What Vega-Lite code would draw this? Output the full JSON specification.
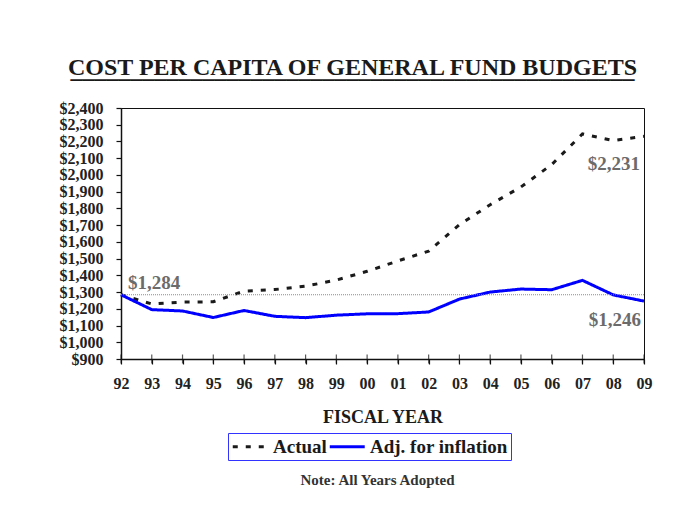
{
  "$schema": "https://vega.github.io/schema/vega-lite/v6.json",
  "background": "white",
  "padding": {"left": 58, "top": 55, "right": 5, "bottom": 5},
  "title": {
    "text": "Note: All Years Adopted",
    "orient": "bottom",
    "anchor": "middle",
    "frame": "group",
    "dx": -5,
    "font": "Liberation Serif",
    "fontSize": 15,
    "fontWeight": "bold",
    "color": "#333333",
    "offset": 12
  },
  "datasets": {
    "series": [
      {"year": "92", "series": "Actual", "value": 1284},
      {"year": "93", "series": "Actual", "value": 1229},
      {"year": "94", "series": "Actual", "value": 1240},
      {"year": "95", "series": "Actual", "value": 1242},
      {"year": "96", "series": "Actual", "value": 1306},
      {"year": "97", "series": "Actual", "value": 1315},
      {"year": "98", "series": "Actual", "value": 1335},
      {"year": "99", "series": "Actual", "value": 1372},
      {"year": "00", "series": "Actual", "value": 1424},
      {"year": "01", "series": "Actual", "value": 1486},
      {"year": "02", "series": "Actual", "value": 1545},
      {"year": "03", "series": "Actual", "value": 1703},
      {"year": "04", "series": "Actual", "value": 1822},
      {"year": "05", "series": "Actual", "value": 1928},
      {"year": "06", "series": "Actual", "value": 2062},
      {"year": "07", "series": "Actual", "value": 2245},
      {"year": "08", "series": "Actual", "value": 2205},
      {"year": "09", "series": "Actual", "value": 2231},
      {"year": "92", "series": "Adj. for inflation", "value": 1284},
      {"year": "93", "series": "Adj. for inflation", "value": 1195},
      {"year": "94", "series": "Adj. for inflation", "value": 1187},
      {"year": "95", "series": "Adj. for inflation", "value": 1148},
      {"year": "96", "series": "Adj. for inflation", "value": 1190},
      {"year": "97", "series": "Adj. for inflation", "value": 1155},
      {"year": "98", "series": "Adj. for inflation", "value": 1147},
      {"year": "99", "series": "Adj. for inflation", "value": 1162},
      {"year": "00", "series": "Adj. for inflation", "value": 1170},
      {"year": "01", "series": "Adj. for inflation", "value": 1171},
      {"year": "02", "series": "Adj. for inflation", "value": 1181},
      {"year": "03", "series": "Adj. for inflation", "value": 1258},
      {"year": "04", "series": "Adj. for inflation", "value": 1300},
      {"year": "05", "series": "Adj. for inflation", "value": 1318},
      {"year": "06", "series": "Adj. for inflation", "value": 1314},
      {"year": "07", "series": "Adj. for inflation", "value": 1370},
      {"year": "08", "series": "Adj. for inflation", "value": 1283},
      {"year": "09", "series": "Adj. for inflation", "value": 1246}
    ],
    "labels": [
      {"year": "92", "value": 1284, "label": "$1,284", "which": "first"},
      {"year": "09", "value": 2231, "label": "$2,231", "which": "actual"},
      {"year": "09", "value": 1246, "label": "$1,246", "which": "adj"}
    ]
  },
  "vconcat": [
    {
      "width": 523,
      "height": 251,
      "title": {
        "text": "COST PER CAPITA OF GENERAL FUND BUDGETS",
        "subtitle": "_______________________________________________",
        "anchor": "middle",
        "frame": "bounds",
        "dx": -3,
        "font": "Liberation Serif",
        "fontSize": 24,
        "fontWeight": "bold",
        "color": "#1a1a1a",
        "subtitleFont": "Liberation Serif",
        "subtitleFontSize": 24,
        "subtitleFontWeight": "bold",
        "subtitleColor": "#1a1a1a",
        "subtitlePadding": -21,
        "offset": 17
      },
      "layer": [
        {
          "data": {"name": "series"},
          "mark": {"type": "line", "strokeWidth": 3},
          "encoding": {
            "x": {
              "field": "year", "type": "ordinal", "sort": null,
              "scale": {"type": "point", "padding": 0},
              "axis": {
                "title": "FISCAL YEAR", "labelAngle": 0,
                "domainColor": "#111111", "domainWidth": 1.5,
                "tickColor": "#111111", "tickSize": 5, "tickWidth": 1.2,
                "labelFont": "Liberation Serif", "labelFontSize": 16, "labelFontWeight": "bold",
                "labelColor": "#222222", "labelPadding": 11,
                "titleFont": "Liberation Serif", "titleFontSize": 18, "titleFontWeight": "bold",
                "titleColor": "#1a1a1a", "titlePadding": 17
              }
            },
            "y": {
              "field": "value", "type": "quantitative",
              "scale": {"domain": [900, 2400], "nice": false, "zero": false},
              "axis": {
                "title": null, "format": "$,d", "labelOverlap": false, "tickCount": 16,
                "values": [900, 1000, 1100, 1200, 1300, 1400, 1500, 1600, 1700, 1800, 1900, 2000, 2100, 2200, 2300, 2400],
                "domainColor": "#111111", "domainWidth": 1.5,
                "tickColor": "#111111", "tickSize": 5, "tickWidth": 1.2,
                "labelFont": "Liberation Serif", "labelFontSize": 16, "labelFontWeight": "bold",
                "labelColor": "#222222", "labelPadding": 13, "grid": false
              }
            },
            "color": {
              "field": "series", "type": "nominal",
              "scale": {"domain": ["Actual", "Adj. for inflation"], "range": ["#1a1a1a", "#0000ff"]},
              "legend": {
                "title": null, "orient": "none", "direction": "horizontal",
                "legendX": 107, "legendY": 325,
                "strokeColor": "#3333ff", "padding": 3,
                "symbolType": "M-1,0H3", "symbolSize": 306, "symbolStrokeWidth": 3,
                "labelFont": "Liberation Serif", "labelFontSize": 19, "labelFontWeight": "bold",
                "labelColor": "#1a1a1a", "labelOffset": 21, "columnPadding": -4
              }
            },
            "strokeDash": {
              "field": "series", "type": "nominal",
              "scale": {"domain": ["Actual", "Adj. for inflation"], "range": [[5, 8], [1, 0]]},
              "legend": null
            }
          }
        },
        {
          "data": {"values": [{"ref": 1284}]},
          "mark": {"type": "rule", "color": "#2ecc2e", "strokeWidth": 1, "strokeDash": [1, 1]},
          "encoding": {"y": {"field": "ref", "type": "quantitative"}}
        },
        {
          "data": {"name": "series"},
          "transform": [{"filter": "datum.series === 'Actual'"}],
          "mark": {"type": "tick", "orient": "vertical", "color": "#111111", "thickness": 1.2, "size": 9},
          "encoding": {
            "x": {"field": "year", "type": "ordinal", "sort": null},
            "y": {"datum": 900, "type": "quantitative"}
          }
        },
        {
          "data": {"name": "labels"},
          "transform": [{"filter": "datum.which === 'first'"}],
          "mark": {"type": "text", "align": "left", "baseline": "middle", "dx": 7, "dy": -12, "font": "Liberation Serif", "fontSize": 19, "fontWeight": "bold", "color": "#6b6b6b"},
          "encoding": {
            "x": {"field": "year", "type": "ordinal", "sort": null},
            "y": {"field": "value", "type": "quantitative"},
            "text": {"field": "label"}
          }
        },
        {
          "data": {"name": "labels"},
          "transform": [{"filter": "datum.which === 'actual'"}],
          "mark": {"type": "text", "align": "right", "baseline": "middle", "dx": -4, "dy": 28, "font": "Liberation Serif", "fontSize": 19, "fontWeight": "bold", "color": "#6b6b6b"},
          "encoding": {
            "x": {"field": "year", "type": "ordinal", "sort": null},
            "y": {"field": "value", "type": "quantitative"},
            "text": {"field": "label"}
          }
        },
        {
          "data": {"name": "labels"},
          "transform": [{"filter": "datum.which === 'adj'"}],
          "mark": {"type": "text", "align": "right", "baseline": "middle", "dx": -3, "dy": 19, "font": "Liberation Serif", "fontSize": 19, "fontWeight": "bold", "color": "#6b6b6b"},
          "encoding": {
            "x": {"field": "year", "type": "ordinal", "sort": null},
            "y": {"field": "value", "type": "quantitative"},
            "text": {"field": "label"}
          }
        }
      ]
    }
  ],
  "config": {
    "view": {"stroke": "#111111", "strokeWidth": 1},
    "axisY": {"labelOverlap": false}
  }
}
